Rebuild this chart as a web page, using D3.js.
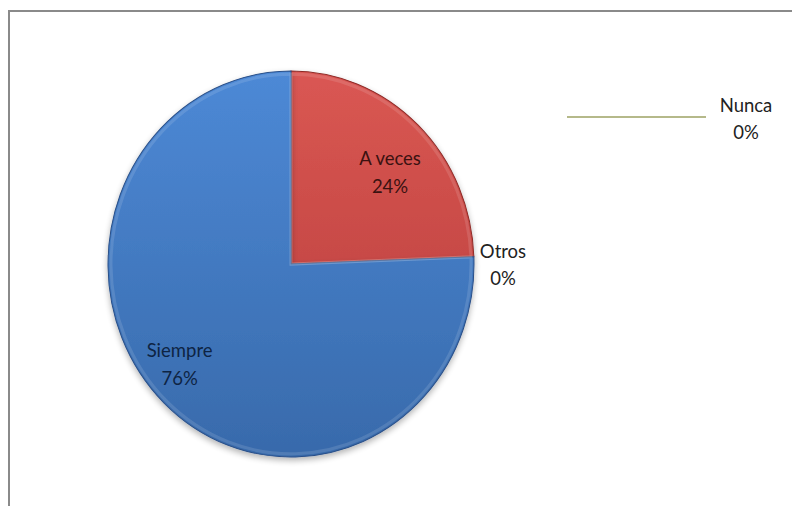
<!DOCTYPE html>
<html><head><meta charset="utf-8">
<script src="https://cdn.jsdelivr.net/npm/d3@7"></script>
<style>body{margin:0;background:#fff}svg{display:block}</style>
</head><body>
<svg id="c" width="792" height="506"></svg>
<script>
const categories = ["A veces", "Otros", "Siempre", "Nunca"];
const values = [24.4, 0, 75.6, 0];
const percentLabels = values.map(v => Math.round(v) + "%");

const svg = d3.select("#c");
const W = 792, H = 506;
const cx = 291, cy = 264, rx = 183, ry = 193;
const font = "Lato, 'Open Sans', sans-serif";
const fs = 18.5;

// frame
svg.append("path").attr("d", `M9,${H} V11 H${W}`).attr("fill", "none")
  .attr("stroke", "#8a8a8a").attr("stroke-width", 2);

const defs = svg.append("defs");
const grads = [
  {id: "gRed", c0: "#da5753", c1: "#b43c38"},
  {id: "gOther", c0: "#9bbb59", c1: "#7f9a48"},
  {id: "gBlue", c0: "#4d89d6", c1: "#386aab"},
  {id: "gNunca", c0: "#8064a2", c1: "#6a5088"}
];
grads.forEach(g => {
  const lg = defs.append("linearGradient").attr("id", g.id)
    .attr("gradientUnits", "userSpaceOnUse")
    .attr("x1", 0).attr("y1", -rx).attr("x2", 0).attr("y2", rx);
  lg.append("stop").attr("offset", "0%").attr("stop-color", g.c0);
  lg.append("stop").attr("offset", "100%").attr("stop-color", g.c1);
});
const f = defs.append("filter").attr("id", "sh").attr("x", "-10%").attr("y", "-10%").attr("width", "120%").attr("height", "120%");
f.append("feGaussianBlur").attr("in", "SourceAlpha").attr("stdDeviation", 3).attr("result", "b");
f.append("feOffset").attr("in", "b").attr("dx", 0).attr("dy", 3).attr("result", "o");
f.append("feComponentTransfer").attr("in", "o").attr("result", "o2")
  .append("feFuncA").attr("type", "linear").attr("slope", 0.3);
const fm = f.append("feMerge");
fm.append("feMergeNode").attr("in", "o2");
fm.append("feMergeNode").attr("in", "SourceGraphic");

const pie = d3.pie().sort(null).value(d => d)(values);
const arc = d3.arc().innerRadius(0).outerRadius(rx);
const arcIn = d3.arc().innerRadius(0).outerRadius(rx - 3);

const g = svg.append("g").attr("transform", `translate(${cx},${cy}) scale(1,${ry / rx})`);
const fills = ["url(#gRed)", "url(#gOther)", "url(#gBlue)", "url(#gNunca)"];
const strokes = ["#8f2b28", "#7f9a48", "#2a5089", "#6a5088"];
g.selectAll("path.s").data(pie).join("path").attr("class", "s")
  .attr("d", arc).attr("fill", (d, i) => fills[i]).attr("filter", "url(#sh)")
  .attr("stroke", (d, i) => strokes[i]).attr("stroke-width", 1)
  .attr("display", d => d.value > 0 ? null : "none");
// soft bevel highlight
g.selectAll("path.h").data(pie).join("path").attr("class", "h")
  .attr("d", arcIn).attr("fill", "none").attr("stroke", "#ffffff").attr("stroke-opacity", 0.12)
  .attr("stroke-width", 3)
  .attr("display", d => d.value > 0 ? null : "none");

// label layout (radius, angle offset in degrees) for inside labels
const labelLayout = [[132, 4.7], null, [146, 5.8], null];
const textCol = ["#3b1211", "#222", "#0e2443", "#222"];
pie.forEach((d, i) => {
  let x, y;
  if (i === 3) {
    svg.append("line").attr("x1", 567).attr("x2", 706).attr("y1", 117).attr("y2", 117)
      .attr("stroke", "#b5b98a").attr("stroke-width", 2);
    x = 746; y = 105;
  } else if (i === 1) {
    x = cx + rx + 29; y = cy - 13;
  } else {
    const a = (d.startAngle + d.endAngle) / 2 + labelLayout[i][1] * Math.PI / 180;
    x = cx + labelLayout[i][0] * Math.sin(a);
    y = cy - labelLayout[i][0] * Math.cos(a) * ry / rx - 13;
  }
  const t = svg.append("text").attr("text-anchor", "middle").attr("font-family", font)
    .attr("font-size", fs).attr("fill", textCol[i]);
  t.append("tspan").attr("x", x).attr("y", y + 6.5).text(categories[i]);
  t.append("tspan").attr("x", x).attr("y", y + 34).text(percentLabels[i]);
});
</script>
</body></html>
